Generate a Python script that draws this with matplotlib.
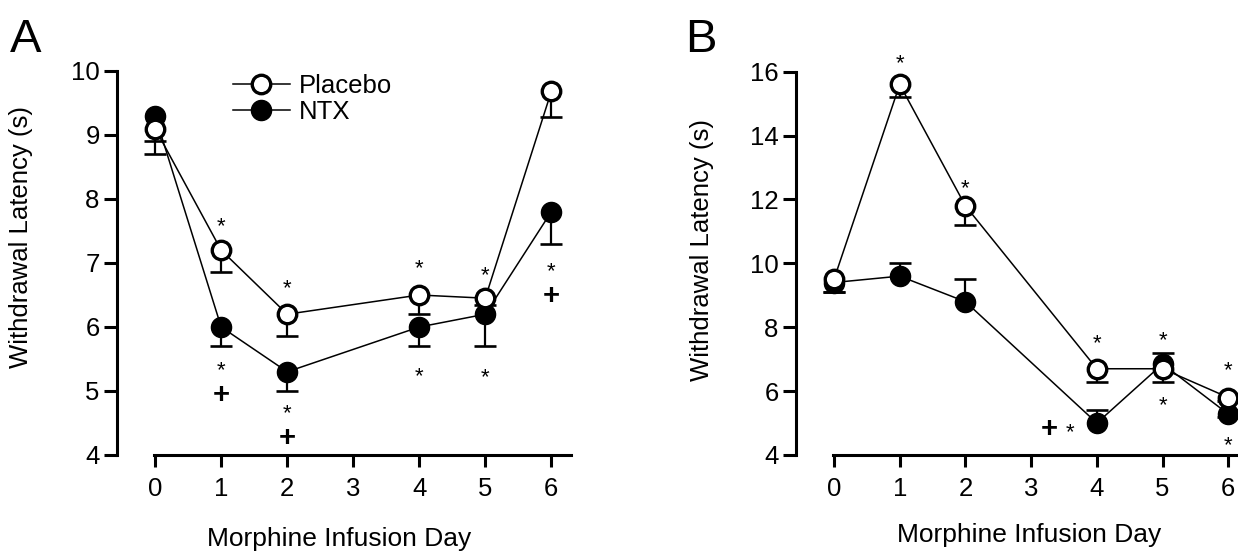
import matplotlib
matplotlib.use("Agg")
import matplotlib.pyplot as plt
from matplotlib import transforms

plt.rcParams['font.family'] = ['Liberation Sans', 'DejaVu Sans']

# ---------------- data ----------------
days = [0, 1, 2, 4, 5, 6]
day_ticks = [0, 1, 2, 3, 4, 5, 6]

# Panel A
a_placebo = [9.1, 7.2, 6.2, 6.5, 6.45, 9.68]
a_placebo_lo = [0.4, 0.34, 0.34, 0.3, 0.1, 0.4]
a_placebo_hi = [0, 0, 0, 0, 0, 0]
a_ntx = [9.3, 6.0, 5.3, 6.0, 6.2, 7.8]
a_ntx_lo = [0.4, 0.3, 0.3, 0.3, 0.5, 0.5]
a_ntx_hi = [0, 0, 0, 0, 0, 0]
a_yticks = [4, 5, 6, 7, 8, 9, 10]
a_marks = [(1, 7.68, '*'), (1, 5.43, '*'), (1, 4.98, '+'),
           (2, 6.71, '*'), (2, 4.76, '*'), (2, 4.31, '+'),
           (4, 7.03, '*'), (4, 5.34, '*'),
           (5, 6.91, '*'), (5, 5.32, '*'),
           (6, 6.98, '*'), (6, 6.53, '+')]

# Panel B
b_placebo = [9.5, 15.6, 11.8, 6.7, 6.7, 5.8]
b_placebo_lo = [0.4, 0.38, 0.6, 0.4, 0.4, 0.1]
b_placebo_hi = [0, 0, 0, 0, 0, 0]
b_ntx = [9.4, 9.6, 8.8, 5.0, 6.85, 5.28]
b_ntx_lo = [0.3, 0, 0, 0, 0, 0.1]
b_ntx_hi = [0, 0.4, 0.72, 0.4, 0.35, 0]
b_yticks = [4, 6, 8, 10, 12, 14, 16]
b_marks = [(1, 16.47, '*'), (2, 12.56, '*'), (4, 7.73, '*'),
           (3.27, 4.90, '+'), (3.59, 4.92, '*'),
           (5, 7.82, '*'), (5, 5.79, '*'),
           (6, 6.88, '*'), (6, 4.53, '*')]

FS = 18.5
AST_FS = 16
PLUS_FS = 21
W, H = 1238, 553
fig = plt.figure(figsize=(W / 100, H / 100), dpi=100)


def px_rect(left, top, right, bottom):
    return [left / W, 1 - bottom / H, (right - left) / W, (bottom - top) / H]


def draw_err(ax, x, y, lo, hi, z):
    for xi, yi, l, h in zip(x, y, lo, hi):
        for d in (-l, h):
            if d != 0:
                ax.plot([xi, xi], [yi, yi + d], color='black', lw=1.6,
                        zorder=z, solid_capstyle='butt', clip_on=False)
                ax.plot([xi], [yi + d], marker='_', ms=16, mew=1.9,
                        color='black', zorder=z, clip_on=False)


def panel(ax, placebo, p_lo, p_hi, ntx, n_lo, n_hi, ylim, yticks, marks):
    ax.set_xlim(-0.578, 6.4)
    ax.set_ylim(*ylim)
    draw_err(ax, days, ntx, n_lo, n_hi, 2)
    ln_n, = ax.plot(days, ntx, color='black', lw=1.1, marker='o', ms=14.5,
                    mfc='black', mec='black', mew=1, zorder=3, clip_on=False,
                    label='NTX')
    draw_err(ax, days, placebo, p_lo, p_hi, 4)
    ln_p, = ax.plot(days, placebo, color='black', lw=1.1, marker='o', ms=13.3,
                    mfc='white', mec='black', mew=2.4, zorder=5, clip_on=False,
                    label='Placebo')
    for sp in ('top', 'right'):
        ax.spines[sp].set_visible(False)
    ax.spines['left'].set_linewidth(2.2)
    ax.spines['bottom'].set_linewidth(2.2)
    ax.spines['left'].set_bounds(ylim[0], ylim[1])
    ax.spines['bottom'].set_bounds(-0.02, 6.3)
    ax.set_xticks(day_ticks)
    ax.set_yticks(yticks)
    ax.tick_params(axis='x', length=8.5, width=2.2, labelsize=FS, pad=7)
    ax.tick_params(axis='y', length=9.5, width=2.2, labelsize=FS, pad=3)
    for x, y, s in marks:
        if s == '*':
            off, fs, fw = -0.58 * AST_FS, AST_FS, 'normal'
        else:
            off, fs, fw = -0.36 * PLUS_FS, PLUS_FS, 'bold'
        tr = transforms.offset_copy(ax.transData, fig=fig, x=0, y=off,
                                    units='points')
        ax.text(x, y, s, transform=tr, ha='center', va='baseline',
                fontsize=fs, fontweight=fw, zorder=6)
    return ln_p, ln_n


axA = fig.add_axes(px_rect(117, 71, 117 + 460.7, 455))
pA, nA = panel(axA, a_placebo, a_placebo_lo, a_placebo_hi,
               a_ntx, a_ntx_lo, a_ntx_hi, (4, 10), a_yticks, a_marks)

axB = fig.add_axes(px_rect(796, 71.7, 796 + 458.6, 455))
panel(axB, b_placebo, b_placebo_lo, b_placebo_hi,
      b_ntx, b_ntx_lo, b_ntx_hi, (4, 16), b_yticks, b_marks)

leg = axA.legend(handles=[pA, nA], loc='center left',
                 bbox_to_anchor=(233 / W, 1 - 99 / H),
                 bbox_transform=fig.transFigure, frameon=False,
                 fontsize=FS, handlelength=2.2, handletextpad=0.35,
                 labelspacing=0.1, borderpad=0, borderaxespad=0)

# axis labels
for cx, cy in ((21, 237), (702, 250)):
    fig.text(cx / W, 1 - cy / H, 'Withdrawal Latency (s)', rotation=90,
             ha='center', va='center', fontsize=FS)
for cx, by in ((339, 546), (1029, 542)):
    fig.text(cx / W, 1 - by / H, 'Morphine Infusion Day', ha='center',
             va='baseline', fontsize=FS + 0.5)

# panel letters
fig.text(10 / W, 1 - 52 / H, 'A', fontsize=34, va='baseline', ha='left')
fig.text(685 / W, 1 - 52 / H, 'B', fontsize=34, va='baseline', ha='left')

fig.savefig('out.png', dpi=100)
